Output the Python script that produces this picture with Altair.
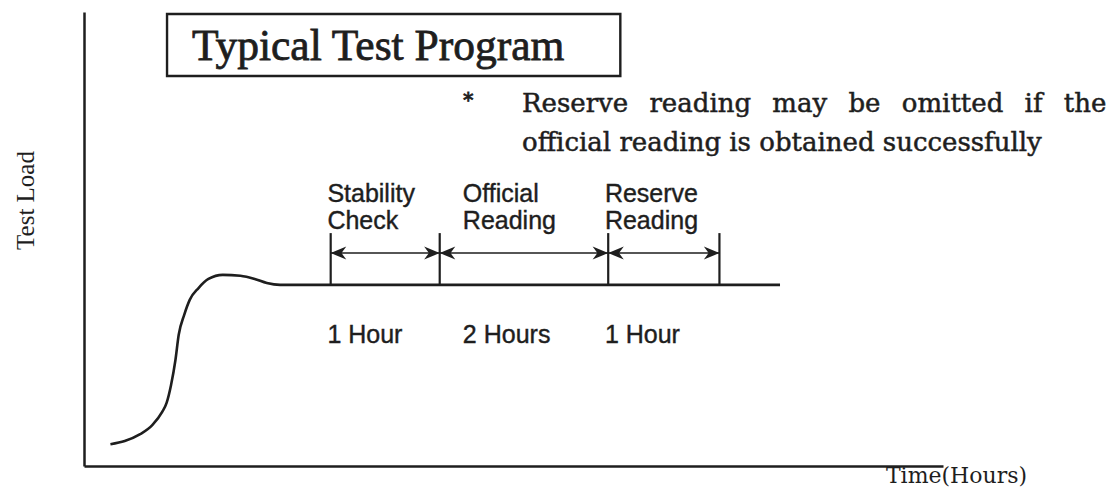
import altair as alt
import pandas as pd

# ---- data (time in hours, test load normalised 0..1) ----
curve_hours = [0.24, 0.37, 0.51, 0.62, 0.71, 0.75, 0.79, 0.83, 0.86, 0.91, 0.96,
               1.04, 1.13, 1.26, 1.42, 1.55, 1.66, 1.78, 6.32]
curve_load = [0.048, 0.055, 0.070, 0.090, 0.119, 0.139, 0.178, 0.233, 0.289, 0.333, 0.366,
              0.392, 0.412, 0.421, 0.419, 0.412, 0.403, 0.399, 0.399]

phase_names = ["Stability\nCheck", "Official\nReading", "Reserve\nReading"]
phase_durations = ["1 Hour", "2 Hours", "1 Hour"]
phase_start = [2.24, 3.23, 4.76]
phase_end = [3.23, 4.76, 5.77]
phase_label_hours = [2.21, 3.44, 4.73]

marker_hours = [2.24, 3.23, 4.76, 5.77]
steady_load = 0.399
marker_top = 0.513
arrow_load = 0.469
phase_label_load = 0.581
duration_label_load = 0.271

title_text = "Typical Test Program"
box_x = [0.754, 4.87]
box_y = [0.859, 0.9956]
title_pos = [0.98, 0.894]

note_star = "*"
note_lines = ["Reserve \u2002reading \u2002may \u2002be \u2002omitted \u2002if \u2002the",
              "official reading is obtained successfully"]
note_hours = [3.977, 3.977]
note_load = [0.780, 0.6938]
star_pos = [3.49, 0.805]

x_title = "Time(Hours)"
y_title = "Test Load"

INK = "#1e1e1e"
SERIF = "Liberation Serif"
WIDE_SERIF = "DejaVu Serif"
SANS = "Liberation Sans"

xs = alt.Scale(domain=[0, 7.8], nice=False, zero=False)
ys = alt.Scale(domain=[0, 1], nice=False, zero=False)

AX_X = alt.Axis(
    domain=True, domainColor=INK, domainWidth=2.5, ticks=False, labels=False, grid=False,
    title=x_title, titleFont=WIDE_SERIF, titleFontSize=22, titleFontWeight="normal",
    titleColor=INK, titleX=872, titleY=16, titleAlign="center", titleBaseline="alphabetic")
AX_Y = alt.Axis(
    domain=True, domainColor=INK, domainWidth=2.5, ticks=False, labels=False, grid=False,
    title=y_title, titleFont=SERIF, titleFontSize=25, titleFontWeight="normal",
    titleColor=INK, titleX=-59, titleY=188, titleAlign="center", titleBaseline="middle")


def X(field):
    return alt.X(field, scale=xs, axis=AX_X)


def Y(field):
    return alt.Y(field, scale=ys, axis=AX_Y)


curve_df = pd.DataFrame({"t": curve_hours, "load": curve_load})
curve = alt.Chart(curve_df).mark_line(color=INK, strokeWidth=2.6, interpolate="monotone").encode(
    x=X("t:Q"), y=Y("load:Q"), order=alt.Order("t:Q"),
)

marker_df = pd.DataFrame({"t": marker_hours, "lo": [steady_load] * 4, "hi": [marker_top] * 4})
markers = alt.Chart(marker_df).mark_rule(color=INK, strokeWidth=2.2).encode(
    x=X("t:Q"), y=Y("lo:Q"), y2="hi:Q",
)

phase_df = pd.DataFrame({
    "name": phase_names, "dur": phase_durations, "start": phase_start, "end": phase_end,
    "lx": phase_label_hours, "arrow": [arrow_load] * 3,
    "ly": [phase_label_load] * 3, "dy": [duration_label_load] * 3,
})
shafts = alt.Chart(phase_df).mark_rule(color=INK, strokeWidth=1.6).encode(
    x=X("start:Q"), x2="end:Q", y=Y("arrow:Q"),
)
RIGHT_HEAD = "M0,0L-1.8,-0.75L-1.25,0L-1.8,0.75Z"
LEFT_HEAD = "M0,0L1.8,-0.75L1.25,0L1.8,0.75Z"
heads_left = alt.Chart(phase_df).mark_point(
    shape=LEFT_HEAD, filled=True, color=INK, size=300, opacity=1
).encode(x=X("start:Q"), y=Y("arrow:Q"))
heads_right = alt.Chart(phase_df).mark_point(
    shape=RIGHT_HEAD, filled=True, color=INK, size=300, opacity=1
).encode(x=X("end:Q"), y=Y("arrow:Q"))

phase_labels = alt.Chart(phase_df).mark_text(
    align="left", baseline="alphabetic", font=SANS, fontSize=25, color=INK,
    stroke=INK, strokeWidth=0.4, lineBreak="\n", lineHeight=27
).encode(x=X("lx:Q"), y=Y("ly:Q"), text="name:N")
dur_labels = alt.Chart(phase_df).mark_text(
    align="left", baseline="alphabetic", font=SANS, fontSize=25, color=INK,
    stroke=INK, strokeWidth=0.4
).encode(x=X("lx:Q"), y=Y("dy:Q"), text="dur:N")

box_df = pd.DataFrame({"x1": [box_x[0]], "x2": [box_x[1]], "y1": [box_y[0]], "y2": [box_y[1]]})
box = alt.Chart(box_df).mark_rect(fill="white", stroke=INK, strokeWidth=2.4).encode(
    x=X("x1:Q"), x2="x2:Q", y=Y("y1:Q"), y2="y2:Q",
)
title_df = pd.DataFrame({"x": [title_pos[0]], "y": [title_pos[1]], "txt": [title_text]})
title = alt.Chart(title_df).mark_text(
    align="left", baseline="alphabetic", font=SERIF, fontSize=43.5, color=INK,
    stroke=INK, strokeWidth=0.8
).encode(x=X("x:Q"), y=Y("y:Q"), text="txt:N")

note_df = pd.DataFrame({"x": note_hours, "y": note_load, "txt": note_lines})
note = alt.Chart(note_df).mark_text(
    align="left", baseline="alphabetic", font=WIDE_SERIF, fontSize=26, color=INK,
    stroke=INK, strokeWidth=0.5
).encode(x=X("x:Q"), y=Y("y:Q"), text="txt:N")
star_df = pd.DataFrame({"x": [star_pos[0]], "y": [star_pos[1]], "txt": [note_star]})
star = alt.Chart(star_df).mark_text(
    align="center", baseline="middle", font=WIDE_SERIF, fontSize=20, color=INK,
    stroke=INK, strokeWidth=0.8
).encode(x=X("x:Q"), y=Y("y:Q"), text="txt:N")

chart = alt.layer(
    curve, markers, shafts, heads_left, heads_right, phase_labels, dur_labels,
    box, title, note, star
).properties(
    width=859, height=454,
    autosize=alt.AutoSizeParams(type="none"),
    padding={"left": 76, "top": 4, "right": 168, "bottom": 22},
    background="white",
).configure_view(stroke=None)

chart.save("out.html", embed_options={"renderer": "svg", "actions": False})
